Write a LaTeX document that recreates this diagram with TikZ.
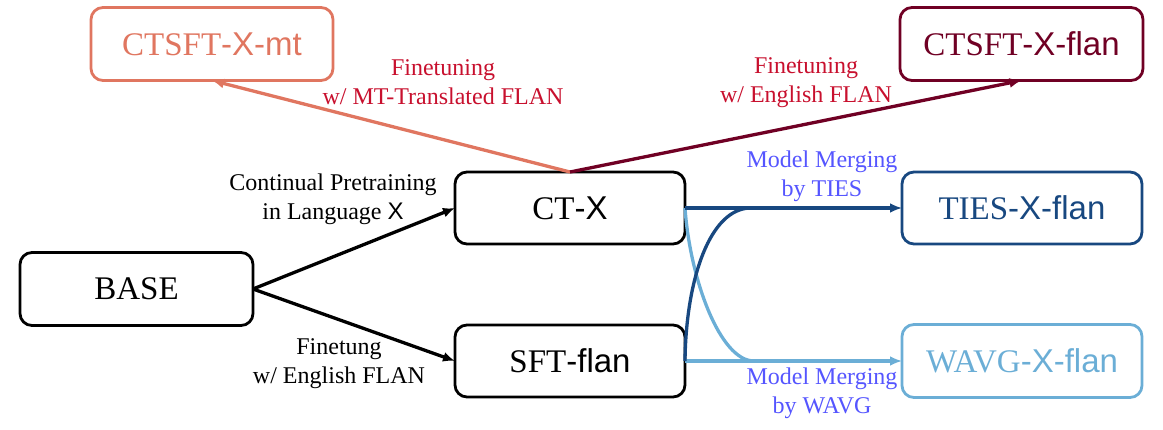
\documentclass[tikz,border=0pt]{standalone}
\usepackage{fontspec}
\setmainfont{Liberation Serif}
\newfontfamily\arialf{Liberation Sans}
\usetikzlibrary{arrows.meta}
\definecolor{cmt}{RGB}{224,118,96}
\definecolor{cflan}{RGB}{112,0,36}
\definecolor{cties}{RGB}{24,72,128}
\definecolor{cwavg}{RGB}{107,174,214}
\definecolor{lred}{RGB}{200,16,46}
\definecolor{lblue}{RGB}{85,85,255}
\tikzset{
  box/.style={draw, rectangle, rounded corners=12pt, line width=2.8pt, outer sep=0pt,
    inner sep=0pt, font=\fontsize{33}{40}\selectfont},
  lab/.style={align=center, font=\fontsize{24}{29}\selectfont, inner sep=0pt},
  conn/.style={line width=3.3pt, -{Latex[length=12pt,width=10pt]}},
  plain/.style={line width=3.3pt}
}
\begin{document}
\begin{tikzpicture}[x=1pt,y=1pt]
\useasboundingbox (0,0) rectangle (1163,429);
% nodes
\node[box, minimum width=233pt, minimum height=73pt] (base) at (136.5,140) {BASE};
\node[box, minimum width=230pt, minimum height=72pt] (ctx) at (570,221) {CT{\arialf -X}};
\node[box, minimum width=230pt, minimum height=72pt] (sft) at (570,68) {SFT{\arialf -flan}};
\node[box, draw=cmt, text=cmt, minimum width=242pt, minimum height=73pt] (mt) at (212,385) {CTSFT{\arialf -X-mt}};
\node[box, draw=cflan, text=cflan, minimum width=243pt, minimum height=73pt] (flan) at (1021.5,385) {CTSFT{\arialf -X-flan}};
\node[box, draw=cties, text=cties, minimum width=240pt, minimum height=72pt] (ties) at (1022,221) {TIES{\arialf -X-flan}};
\node[box, draw=cwavg, text=cwavg, minimum width=240pt, minimum height=73pt] (wavg) at (1022,68) {WAVG{\arialf -X-flan}};
% join points
\coordinate (jt) at (751,221);
\coordinate (jw) at (754,68);
% connectors
\draw[conn] (base.east) -- (ctx.west);
\draw[conn] (base.east) -- (sft.west);
\draw[conn, cmt] (ctx.north) -- (mt.south);
\draw[conn, cflan] (ctx.north) -- (flan.south);
\draw[plain, cwavg] (ctx.east) .. controls (690,150) and (720,68) .. (jw);
\draw[conn, cwavg] (sft.east) -- (wavg.west);
\draw[plain, cties] (sft.east) .. controls (686,150) and (710,221) .. (jt);
\draw[conn, cties] (ctx.east) -- (ties.west);
% labels
\node[lab] (l1) at (333,230) {Continual Pretraining\\in Language {\arialf X}};
\node[lab] (l2) at (339,65.5) {Finetung\\w/ English FLAN};
\node[lab, text=lred] (l3) at (443,346.5) {Finetuning\\w/ MT-Translated FLAN};
\node[lab, text=lred] (l4) at (806,346.5) {Finetuning\\w/ English FLAN};
\node[lab, text=lblue] (l5) at (822,253) {Model Merging\\by TIES};
\node[lab, text=lblue] (l6) at (822,35.5) {Model Merging\\by WAVG};
\end{tikzpicture}
\end{document}
